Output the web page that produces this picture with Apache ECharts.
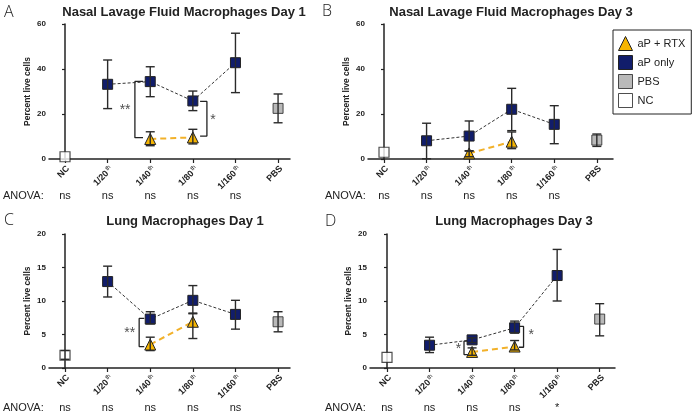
<!DOCTYPE html>
<html><head><meta charset="utf-8">
<script src="https://cdn.jsdelivr.net/npm/echarts@6/dist/echarts.min.js"></script>
<style>html,body{margin:0;padding:0;background:#fff}#c{width:696px;height:415px}</style>
</head><body><div id="c"></div>
<script>
// ---------- data ----------
const categories = ['NC', '1/20', '1/40', '1/80', '1/160', 'PBS'];
const hasSup = [false, true, true, true, true, false];
const titles = ['Nasal Lavage Fluid Macrophages Day 1', 'Nasal Lavage Fluid Macrophages Day 3',
                'Lung Macrophages Day 1', 'Lung Macrophages Day 3'];
const letters = ['A', 'B', 'C', 'D'];
const yMax = [60, 60, 20, 20];
const yStep = [20, 20, 5, 5];
const anovaABC = ['ns', 'ns', 'ns', 'ns', 'ns', ''];
const anovaD = ['ns', 'ns', 'ns', 'ns', '*', ''];

// Panel A (Nasal lavage day 1)
const aOnlyMeanA = [null, 33.2, 34.4, 25.8, 42.8, null];
const aOnlyHiA   = [null, 44.0, 41.0, 30.2, 55.9, null];
const aOnlyLoA   = [null, 22.4, 27.7, 21.5, 29.5, null];
const rtxMeanA = [null, null, 8.9, 9.6, null, null];
const rtxHiA   = [null, null, 12.1, 13.2, null, null];
const rtxLoA   = [null, null, 5.9, 6.7, null, null];
const pbsA = [22.5, 28.9, 16.1];
const ncA = [1.0, null, null];

// Panel B (Nasal lavage day 3)
const aOnlyMeanB = [null, 8.1, 10.2, 22.1, 15.4, null];
const aOnlyHiB   = [null, 15.9, 16.9, 31.4, 23.7, null];
const aOnlyLoB   = [null, 0.1, 3.5, 12.6, 6.8, null];
const rtxMeanB = [null, null, 2.5, 7.7, null, null];
const rtxHiB   = [null, null, 3.7, 12.0, null, null];
const rtxLoB   = [null, null, 1.0, 4.6, null, null];
const pbsB = [8.4, 11.1, 5.6];
const ncB = [3.0, null, null];

// Panel C (Lung day 1)
const aOnlyMeanC = [null, 12.9, 7.3, 10.1, 8.0, null];
const aOnlyHiC   = [null, 15.2, 8.4, 12.3, 10.1, null];
const aOnlyLoC   = [null, 10.6, 6.6, 8.2, 5.8, null];
const rtxMeanC = [null, null, 3.5, 6.9, null, null];
const rtxHiC   = [null, null, 4.6, 8.1, null, null];
const rtxLoC   = [null, null, 2.6, 4.4, null, null];
const pbsC = [6.9, 8.4, 5.4];
const ncC = [1.9, 2.6, 1.3];

// Panel D (Lung day 3)
const aOnlyMeanD = [null, 3.4, 4.2, 6.0, 13.8, null];
const aOnlyHiD   = [null, 4.6, 4.5, 7.0, 17.7, null];
const aOnlyLoD   = [null, 2.3, 3.8, 5.2, 10.0, null];
const rtxMeanD = [null, null, 2.4, 3.2, null, null];
const rtxHiD   = [null, null, 3.0, 4.1, null, null];
const rtxLoD   = [null, null, 1.9, 2.7, null, null];
const pbsD = [7.3, 9.6, 4.8];
const ncD = [1.6, null, null];

// significance brackets: [xVertical, xTickEnd, yTop, yBottom, starX, starY, text]
const bracketsA = [[1.64, 1.83, 34.5, 9.5, 1.41, 21.8, '**'], [3.33, 3.17, 25.6, 10.2, 3.47, 17.3, '*']];
const bracketsB = [];
const bracketsC = [[1.74, 1.86, 7.4, 3.2, 1.52, 5.2, '**']];
const bracketsD = [[1.81, 1.9, 4.0, 2.0, 1.68, 2.8, '*'], [3.21, 3.1, 6.2, 3.1, 3.39, 4.9, '*']];

// ---------- layout ----------
const grids = [
  {left: 49, top: 24, width: 241, height: 135, xmin: -0.376, xmax: 5.28, off: 27},
  {left: 368, top: 24, width: 245, height: 135, xmin: -0.376, xmax: 5.38, off: 27},
  {left: 49, top: 234, width: 241, height: 134, xmin: -0.376, xmax: 5.28, off: 30},
  {left: 370, top: 234, width: 245, height: 134, xmin: -0.4, xmax: 5.36, off: 30}
];
const panels = [
  {m: aOnlyMeanA, h: aOnlyHiA, l: aOnlyLoA, rm: rtxMeanA, rh: rtxHiA, rl: rtxLoA, pbs: pbsA, nc: ncA, br: bracketsA, anova: anovaABC},
  {m: aOnlyMeanB, h: aOnlyHiB, l: aOnlyLoB, rm: rtxMeanB, rh: rtxHiB, rl: rtxLoB, pbs: pbsB, nc: ncB, br: bracketsB, anova: anovaABC},
  {m: aOnlyMeanC, h: aOnlyHiC, l: aOnlyLoC, rm: rtxMeanC, rh: rtxHiC, rl: rtxLoC, pbs: pbsC, nc: ncC, br: bracketsC, anova: anovaABC},
  {m: aOnlyMeanD, h: aOnlyHiD, l: aOnlyLoD, rm: rtxMeanD, rh: rtxHiD, rl: rtxLoD, pbs: pbsD, nc: ncD, br: bracketsD, anova: anovaD}
];

const FONT = '"Liberation Sans", Arial, sans-serif';
const INK = '#222';
const NAVY = '#111d6b';
const GOLD = '#f6b500';
const GRAY = '#a8a8a8';
const idx = [0, 1, 2, 3, 4, 5];

const option = {
  animation: false,
  grid: [], xAxis: [], yAxis: [], series: [],
  legend: {
    orient: 'vertical', left: 613, top: 30, padding: [6, 6, 6, 5], itemGap: 4,
    itemWidth: 14, itemHeight: 14, borderColor: INK, borderWidth: 1, borderRadius: 0,
    textStyle: {fontFamily: FONT, fontSize: 11, color: INK},
    itemStyle: {borderColor: INK, borderWidth: 1},
    data: [{name: 'aP + RTX', icon: 'triangle'}, {name: 'aP only', icon: 'rect'},
           {name: 'PBS', icon: 'rect'}, {name: 'NC', icon: 'rect'}]
  },
  graphic: []
};

panels.forEach((P, p) => {
  const g = grids[p];
  option.grid.push({left: g.left, top: g.top, width: g.width, height: g.height});
  option.xAxis.push({
    gridIndex: p, type: 'value', min: g.xmin, max: g.xmax,
    axisLine: {show: true, onZero: false, lineStyle: {color: INK, width: 1.5}},
    splitLine: {show: false},
    axisTick: {show: true, customValues: idx, length: 4, lineStyle: {color: INK, width: 1.2}},
    axisLabel: {
      customValues: idx, rotate: 45, margin: 5, color: INK, verticalAlign: 'top',
      formatter: v => hasSup[v] ? '{a|' + categories[v] + '}{s|th}' : '{a|' + categories[v] + '}',
      rich: {
        a: {fontFamily: FONT, fontSize: 9, fontWeight: 'bold', color: INK},
        s: {fontFamily: FONT, fontSize: 6, color: INK, verticalAlign: 'top', padding: [0, 0, 5, 1]}
      }
    }
  });
  option.xAxis.push({
    gridIndex: p, type: 'value', min: g.xmin, max: g.xmax, position: 'bottom', offset: g.off,
    axisLine: {show: false}, axisTick: {show: false}, splitLine: {show: false},
    axisLabel: {customValues: idx, margin: 4, formatter: v => P.anova[v],
      fontFamily: FONT, fontSize: 11, color: INK}
  });
  option.yAxis.push({
    gridIndex: p, type: 'value', min: 0, max: yMax[p], interval: yStep[p],
    axisLine: {show: true, lineStyle: {color: INK, width: 1.5}},
    axisTick: {show: true, length: 3, lineStyle: {color: INK, width: 1.2}},
    splitLine: {show: false},
    axisLabel: {fontFamily: FONT, fontSize: 8, fontWeight: 'bold', color: INK, margin: 3},
    name: 'Percent live cells', nameLocation: 'middle', nameGap: 17,
    nameTextStyle: {fontFamily: FONT, fontSize: 8.5, fontWeight: 'bold', color: INK}
  });
  const xi = 2 * p, yi = p;

  // brackets
  P.br.forEach(b => {
    option.series.push({
      type: 'line', xAxisIndex: xi, yAxisIndex: yi, symbol: 'none', silent: true, z: 1,
      lineStyle: {color: INK, width: 1.3},
      data: [[b[1], b[2]], [b[0], b[2]], [b[0], b[3]], [b[1], b[3]]]
    });
    option.series.push({
      type: 'scatter', xAxisIndex: xi, yAxisIndex: yi, symbolSize: 1, silent: true,
      itemStyle: {color: 'rgba(0,0,0,0)'},
      label: {show: true, position: 'inside', formatter: b[6], fontFamily: FONT, fontSize: 14, color: INK},
      data: [[b[4], b[5]]]
    });
  });

  // aP only line + markers
  option.series.push({
    name: 'aP only', type: 'line', xAxisIndex: xi, yAxisIndex: yi, z: 3,
    symbol: 'rect', symbolSize: 10,
    itemStyle: {color: NAVY, borderColor: INK, borderWidth: 1},
    lineStyle: {color: '#333', width: 1, type: [3, 2]},
    data: idx.filter(i => P.m[i] != null).map(i => [i, P.m[i]])
  });
  // aP + RTX
  option.series.push({
    name: 'aP + RTX', type: 'line', xAxisIndex: xi, yAxisIndex: yi, z: 3,
    symbol: 'triangle', symbolSize: 11,
    itemStyle: {color: GOLD, borderColor: INK, borderWidth: 1},
    lineStyle: {color: '#f2b12a', width: 2, type: [6, 4]},
    data: idx.filter(i => P.rm[i] != null).map(i => [i, P.rm[i]])
  });
  option.series.push({
    name: 'PBS', type: 'scatter', xAxisIndex: xi, yAxisIndex: yi, z: 3,
    symbol: 'rect', symbolSize: 10,
    itemStyle: {color: GRAY, borderColor: INK, borderWidth: 1},
    data: [[5, P.pbs[0]]]
  });
  option.series.push({
    name: 'NC', type: 'scatter', xAxisIndex: xi, yAxisIndex: yi, z: 3,
    symbol: 'rect', symbolSize: 10,
    itemStyle: {color: '#fff', borderColor: INK, borderWidth: 1.2},
    data: [[0, P.nc[0]]]
  });

  // error bars
  const eb = [];
  idx.forEach(i => { if (P.h[i] != null) eb.push([i, P.l[i], P.h[i]]); });
  idx.forEach(i => { if (P.rh[i] != null) eb.push([i, P.rl[i], P.rh[i]]); });
  eb.push([5, P.pbs[2], P.pbs[1]]);
  if (P.nc[1] != null) eb.push([0, P.nc[2], P.nc[1]]);
  option.series.push({
    type: 'custom', xAxisIndex: xi, yAxisIndex: yi, z: 4, silent: true,
    encode: {x: 0, y: [1, 2]},
    renderItem: (params, api) => {
      const x = api.value(0);
      const a = api.coord([x, api.value(1)]);
      const b = api.coord([x, api.value(2)]);
      const w = 4.5, st = {stroke: '#2a2a2a', lineWidth: 1.4};
      return {type: 'group', children: [
        {type: 'line', shape: {x1: a[0], y1: a[1], x2: b[0], y2: b[1]}, style: st},
        {type: 'line', shape: {x1: a[0] - w, y1: a[1], x2: a[0] + w, y2: a[1]}, style: st},
        {type: 'line', shape: {x1: b[0] - w, y1: b[1], x2: b[0] + w, y2: b[1]}, style: st}
      ]};
    },
    data: eb
  });
});

// titles, panel letters, ANOVA row labels
const titlePos = [[184, 12], [511, 12], [185, 221], [514, 221]];
const letterPos = [[4, 12], [322, 11], [4, 220], [325, 221]];
const anovaPos = [[3, 196], [325, 196], [3, 408], [325, 408]];
titles.forEach((t, p) => {
  option.graphic.push({type: 'text', x: titlePos[p][0], y: titlePos[p][1], silent: true,
    style: {text: t, fontFamily: FONT, fontSize: 13, fontWeight: 'bold', fill: INK, align: 'center', verticalAlign: 'middle'}});
  option.graphic.push({type: 'text', x: letterPos[p][0], y: letterPos[p][1], silent: true,
    style: {text: letters[p], fontFamily: '"Open Sans", sans-serif', fontSize: 16, fontWeight: 300, fill: INK, align: 'left', verticalAlign: 'middle'}});
  option.graphic.push({type: 'text', x: anovaPos[p][0], y: anovaPos[p][1], silent: true,
    style: {text: 'ANOVA:', fontFamily: FONT, fontSize: 11, fill: INK, align: 'left', verticalAlign: 'middle'}});
});

const chart = echarts.init(document.getElementById('c'), null, {renderer: 'canvas'});
chart.setOption(option);
</script>
</body></html>
